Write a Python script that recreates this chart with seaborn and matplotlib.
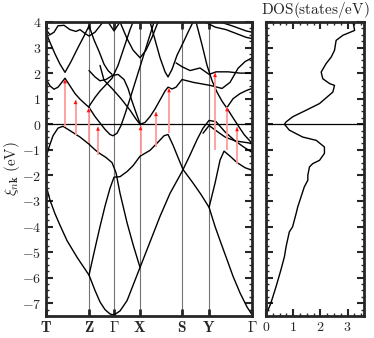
import numpy as np
import pandas as pd
import seaborn as sns
import matplotlib
matplotlib.use('Agg')
import matplotlib.pyplot as plt
from matplotlib.ticker import MultipleLocator

# high-symmetry path (k distance) and labels
kpath = [46, 89, 114, 140, 182, 209, 252]
klabels = [r'$\mathbf{T}$', r'$\mathbf{Z}$', r'$\Gamma$', r'$\mathbf{X}$',
           r'$\mathbf{S}$', r'$\mathbf{Y}$', r'$\Gamma$']

# bands (k, energy in eV)
L1_k = [46, 50, 55, 60, 67, 77, 89, 95, 100, 105, 110, 114, 120, 127, 133, 140, 150, 160, 170, 182,
        190, 197, 203, 209, 216, 225, 235, 244, 252]
L1_E = [-2.38, -2.97, -3.5, -3.95, -4.55, -5.2, -5.9, -6.5, -6.95, -7.25, -7.42, -7.46, -7.3, -6.9, -6.3,
        -5.6, -4.6, -3.6, -2.7, -1.85, -1.2, -0.6, -0.15, 0.15, 0.1, -0.3, -0.65, -0.9, -1.1]
L2_k = [89, 95, 100, 105, 110, 114, 120, 127, 133, 140, 150, 158, 164, 168, 173, 178, 183, 193, 201,
        209, 215, 220, 224, 230, 237, 245, 252]
L2_E = [-5.9, -4.85, -4.0, -3.2, -2.5, -2.07, -2.05, -1.85, -1.62, -1.25, -1.02, -0.7, -0.45, -0.4,
        -0.82, -1.3, -1.77, -2.3, -2.75, -3.25, -2.3, -1.4, -1.05, -1.25, -1.5, -1.7, -1.8]
L3_k = [209, 215, 220, 227, 233, 240, 247, 252]
L3_E = [-3.25, -4.0, -4.55, -5.3, -5.95, -6.6, -7.15, -7.45]
V1_k = [46, 49, 53, 58, 63, 70, 80, 89, 95, 100, 106, 112, 116, 120, 127, 133, 140]
V1_E = [-1.3, -0.9, -0.45, -0.15, -0.08, -0.25, -0.5, -0.78, -1.0, -1.15, -1.3, -1.5, -1.9, -2.7,
        -3.85, -4.7, -5.6]
Yb_k = [203, 209, 216, 225, 235, 252]
Yb_E = [-0.35, -0.05, -0.25, -0.5, -0.65, -0.75]
C1_k = [46, 50, 54, 58, 61, 65, 70, 75, 80, 85, 89, 95, 100, 105, 110, 113, 117, 121, 125, 130, 134,
        138, 142, 146, 150, 154]
C1_E = [1.76, 1.5, 1.37, 1.45, 1.6, 1.8, 1.5, 1.2, 0.98, 0.8, 0.66, 0.3, 0.05, -0.2, -0.4, -0.45,
        -0.35, -0.05, 0.4, 1.0, 1.5, 2.0, 2.5, 3.0, 3.5, 4.0]
Xp_k = [100, 104, 112, 121, 130, 136, 140, 145, 150, 155, 160, 165, 168, 172, 176, 182, 193, 210,
        222, 230, 238, 245, 252]
Xp_E = [2.3, 1.72, 1.4, 1.0, 0.55, 0.2, 0.0, 0.07, 0.3, 0.6, 0.95, 1.3, 1.45, 1.38, 1.45, 1.75, 1.64,
        1.52, 1.4, 1.64, 2.19, 2.45, 2.6]
U3_k = [89, 95, 100, 106, 112, 118, 124, 128, 132, 136, 140]
U3_E = [2.1, 1.85, 1.7, 1.75, 1.9, 1.95, 1.75, 1.4, 0.9, 0.45, 0.02]
UV_k = [46, 50, 55, 60, 65, 71, 78, 84, 89, 94, 99, 104, 108, 112]
UV_E = [3.6, 3.2, 2.75, 2.35, 2.03, 2.45, 3.0, 3.45, 3.85, 3.3, 2.85, 2.35, 2.1, 1.95]
UT_k = [46, 50, 54, 58, 64, 70, 76, 80, 85, 89, 95, 100, 103]
UT_E = [3.7, 3.5, 3.6, 3.85, 3.87, 3.7, 3.63, 3.7, 3.55, 3.45, 3.6, 3.85, 4.0]
U4_k = [89, 95, 100, 106, 112, 118, 124, 130, 133]
U4_E = [0.7, 1.05, 1.3, 1.55, 1.8, 2.3, 3.0, 3.7, 4.0]
UG_k = [108, 114, 120]
UG_E = [4.0, 3.65, 4.0]
UX_k = [120, 127, 133, 140, 146, 152, 158]
UX_E = [4.0, 3.35, 2.9, 2.6, 2.9, 3.4, 4.0]
V2_k = [150, 155, 160, 165, 168, 172, 177, 182, 188, 193]
V2_E = [4.0, 3.3, 2.6, 2.05, 1.85, 2.15, 2.7, 3.1, 3.6, 4.0]
B2_k = [176, 182, 190, 200, 209, 216, 228, 240, 252]
B2_E = [2.4, 2.25, 2.1, 2.2, 1.95, 2.05, 2.05, 2.0, 2.0]
Dg_k = [196, 202, 207, 212, 217, 222, 227, 233, 238, 244, 252]
Dg_E = [4.0, 3.1, 2.3, 1.7, 1.25, 0.9, 0.62, 0.25, -0.05, -0.4, -0.75]
D2_k = [227, 233, 240, 247, 252]
D2_E = [0.66, 1.0, 1.2, 1.33, 1.4]
T2_k = [205, 215, 226, 236, 246, 252]
T2_E = [4.0, 3.8, 3.7, 3.55, 3.4, 3.35]
T3_k = [220, 232, 246, 252]
T3_E = [4.0, 3.85, 3.65, 3.6]

# optical transitions (red arrows)
arrow_k = [65, 75.5, 88.5, 98, 140.5, 156, 169, 215, 227, 237]
arrow_lo = [-0.1, -0.43, -0.75, -1.2, -1.2, -0.9, -0.35, -1.0, -1.0, -1.55]
arrow_hi = [1.75, 0.94, 0.62, -0.1, -0.08, 0.47, 1.4, 2.0, 0.66, -0.12]

# density of states
dos_val = [3.2, 3.26, 2.83, 2.58, 2.52, 2.4, 2.21, 2.03, 2.09, 2.34, 2.52, 2.46, 1.97, 1.48, 0.98,
           0.74, 0.68, 0.86, 1.35, 1.85, 2.15, 2.15, 1.97, 1.72, 1.6, 1.54, 1.54, 1.41, 1.29, 1.17,
           1.11, 0.98, 0.86, 0.74, 0.68, 0.55, 0.37, 0.18, 0.02]
dos_E = [4.0, 3.67, 3.48, 3.28, 2.89, 2.63, 2.37, 2.04, 1.78, 1.59, 1.52, 1.26, 0.81, 0.55, 0.29,
         0.09, 0.0, -0.23, -0.5, -0.63, -0.89, -1.14, -1.41, -1.54, -1.67, -1.99, -2.19, -2.45, -2.84,
         -3.23, -3.49, -4.01, -4.21, -4.79, -5.18, -5.7, -6.36, -7.0, -7.42]

bands = {'L1': (L1_k, L1_E), 'L2': (L2_k, L2_E), 'L3': (L3_k, L3_E), 'V1': (V1_k, V1_E),
         'Yb': (Yb_k, Yb_E), 'C1': (C1_k, C1_E), 'Xp': (Xp_k, Xp_E), 'U3': (U3_k, U3_E),
         'UV': (UV_k, UV_E), 'UT': (UT_k, UT_E), 'U4': (U4_k, U4_E), 'UG': (UG_k, UG_E),
         'UX': (UX_k, UX_E), 'V2': (V2_k, V2_E), 'B2': (B2_k, B2_E), 'Dg': (Dg_k, Dg_E),
         'D2': (D2_k, D2_E), 'T2': (T2_k, T2_E), 'T3': (T3_k, T3_E)}
df = pd.concat([pd.DataFrame({'k': k, 'E': e, 'band': name}) for name, (k, e) in bands.items()],
               ignore_index=True)

sns.set_style('ticks')
plt.rcParams['mathtext.fontset'] = 'cm'
plt.rcParams['font.family'] = ['DejaVu Serif']

fig = plt.figure(figsize=(3.74, 3.38), dpi=100)
ax = fig.add_axes([0.123, 0.065, 0.551, 0.870])
ax2 = fig.add_axes([0.711, 0.065, 0.262, 0.870])

# band structure
for k in kpath[1:-1]:
    ax.axvline(k, color='0.45', lw=0.8, zorder=0)
ax.axhline(0, color='black', lw=0.9, zorder=1)
sns.lineplot(data=df, x='k', y='E', units='band', estimator=None, sort=False,
             color='black', lw=1.0, ax=ax, zorder=2)
# pale shaft + solid red head
ax.vlines(arrow_k, arrow_lo, arrow_hi, color='#ff9a9a', lw=1.3, zorder=3)
for k, hi in zip(arrow_k, arrow_hi):
    ax.annotate('', xy=(k, hi), xytext=(0, -7), textcoords='offset points',
                arrowprops=dict(arrowstyle='-|>', color='#ff1010', lw=0.01,
                                mutation_scale=7, shrinkA=0, shrinkB=0), zorder=4)

ax.set_xlim(kpath[0], kpath[-1])
ax.set_ylim(-7.5, 4)
ax.set_xticks(kpath)
ax.set_xticklabels(klabels, fontsize=11)
ax.set_yticks(range(-7, 5))
ax.set_yticklabels([f'${v}$' for v in range(-7, 5)], fontsize=10)
ax.yaxis.set_minor_locator(MultipleLocator(0.25))
ax.tick_params(axis='x', direction='in', top=True, length=5, width=2, pad=3)
ax.tick_params(axis='y', which='major', direction='in', left=True, right=True, length=5, width=1.5)
ax.tick_params(axis='y', which='minor', direction='in', left=True, right=True, length=2.5, width=1)
ax.set_xlabel('')
ax.set_ylabel(r'$\xi_{n\mathbf{k}}\ \mathrm{(eV)}$', fontsize=11, labelpad=0)
for s in ax.spines.values():
    s.set_linewidth(2)

# density of states
ax2.axhline(0, color='black', lw=0.9)
sns.lineplot(x=dos_val, y=dos_E, sort=False, estimator=None, color='black', lw=1.0, ax=ax2)
ax2.set_xlim(0, 3.6)
ax2.set_ylim(-7.5, 4)
ax2.set_xticks([0, 1, 2, 3])
ax2.set_xticklabels([f'${v}$' for v in range(4)], fontsize=10)
ax2.set_yticks(range(-7, 5))
ax2.set_yticklabels([])
ax2.xaxis.set_minor_locator(MultipleLocator(0.25))
ax2.yaxis.set_minor_locator(MultipleLocator(0.25))
ax2.tick_params(which='major', direction='in', top=True, right=True, left=True, length=5, width=1.5,
                pad=3)
ax2.tick_params(which='minor', direction='in', top=True, right=True, left=True, length=2.5, width=1)
ax2.set_title(r'$\mathrm{DOS(states/eV)}$', fontsize=11, pad=6)
for s in ax2.spines.values():
    s.set_linewidth(2)

fig.savefig('out.png', dpi=100)
